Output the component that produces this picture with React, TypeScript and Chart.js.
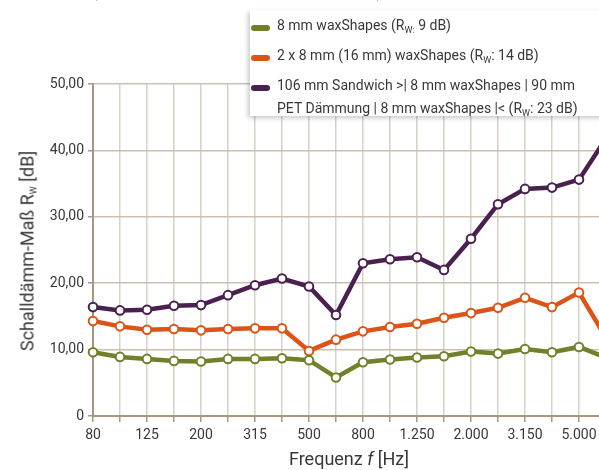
import React, { useEffect, useRef } from "react";
import { Chart, registerables } from "chart.js";

Chart.register(...registerables);

const categories = ["80", "100", "125", "160", "200", "250", "315", "400", "500", "630", "800", "1.000", "1.250", "1.600", "2.000", "2.500", "3.150", "4.000", "5.000", "6.300"];
const series8mm = [9.6, 8.9, 8.6, 8.3, 8.2, 8.6, 8.6, 8.7, 8.4, 5.8, 8.1, 8.5, 8.8, 9.0, 9.7, 9.4, 10.1, 9.6, 10.4, 8.8];
const series16mm = [14.3, 13.5, 13.0, 13.1, 12.9, 13.1, 13.2, 13.2, 9.8, 11.5, 12.75, 13.4, 13.9, 14.8, 15.5, 16.3, 17.8, 16.4, 18.6, 11.8];
const seriesSandwich = [16.4, 15.9, 16.0, 16.6, 16.7, 18.2, 19.7, 20.7, 19.5, 15.2, 23.0, 23.6, 23.9, 22.0, 26.7, 31.9, 34.2, 34.4, 35.6, 41.8];
const yTicks = [0, 10, 20, 30, 40, 50];

const GREEN = "#72802a";
const ORANGE = "#dc5417";
const PURPLE = "#4a2050";
const FONT = "Roboto, 'Noto Sans', sans-serif";
const TEXT = "#383838";

export default function App() {
  const ref = useRef<HTMLCanvasElement>(null);
  useEffect(() => {
    if (!ref.current) return;
    const mk = (data: number[], color: string) => ({
      data,
      borderColor: color,
      backgroundColor: "#ffffff",
      borderWidth: 4.5,
      pointRadius: 4.3,
      pointBorderWidth: 2,
      pointBackgroundColor: "#ffffff",
      pointBorderColor: color,
      tension: 0,
    });
    const chart = new Chart(ref.current, {
      type: "line",
      data: {
        labels: categories,
        datasets: [mk(series8mm, GREEN), mk(series16mm, ORANGE), mk(seriesSandwich, PURPLE)],
      },
      options: {
        animation: false,
        responsive: false,
        maintainAspectRatio: false,
        layout: { padding: { top: 84, right: 14, left: 0, bottom: 0 } },
        plugins: { legend: { display: false }, tooltip: { enabled: false } },
        scales: {
          x: {
            type: "category",
            offset: false,
            afterFit: (s: any) => { s.height = 54; },
            grid: { color: "#d8d1c9", lineWidth: 1.5, tickColor: "#a8967e", tickLength: 6, drawTicks: true },
            border: { color: "#a8967e", width: 2 },
            ticks: {
              autoSkip: false,
              maxRotation: 0,
              padding: 5,
              color: TEXT,
              font: { family: FONT, size: 14 },
              callback: (_v: any, i: number) => (i % 2 === 0 ? categories[i] : ""),
            },
          },
          y: {
            min: 0,
            max: 50,
            afterFit: (s: any) => { s.width = 93; },
            afterBuildTicks: (s: any) => { s.ticks = yTicks.map((v) => ({ value: v })); },
            grid: { color: "#cbbfb0", lineWidth: 1.5, tickColor: "#a8967e", tickLength: 5 },
            border: { color: "#a8967e", width: 2 },
            ticks: {
              padding: 4,
              color: TEXT,
              font: { family: FONT, size: 14 },
              callback: (v: any) => (v === 0 ? "0" : Number(v).toFixed(2).replace(".", ",")),
            },
          },
        },
      },
    });
    return () => chart.destroy();
  }, []);

  const legendItem = (color: string, top: number, content: React.ReactNode) => (
    <div style={{ position: "absolute", left: 1, top, display: "flex", alignItems: "flex-start" }}>
      <div style={{ width: 19, height: 5.5, borderRadius: 3, background: color, marginTop: 8, marginRight: 7 }} />
      <div style={{ lineHeight: "23px", marginTop: -3 }}>{content}</div>
    </div>
  );
  const sub = (t: string) => <sub style={{ fontSize: 9, verticalAlign: "-3px", lineHeight: 0 }}>{t}</sub>;

  return (
    <div style={{ position: "fixed", left: 0, top: 0, width: 599, height: 470, overflow: "hidden", background: "#fff", fontFamily: FONT, color: TEXT }}>
      <canvas ref={ref} width={620} height={470} style={{ position: "absolute", left: 0, top: 0 }} />
      <div style={{ position: "absolute", left: 92, top: -18, fontSize: 16, color: "#555", whiteSpace: "nowrap" }}>
        (Schalldämm-Maß R{sub("W")} in dB im Vergleich)
      </div>
      <div style={{ position: "absolute", left: 250, top: 10, width: 400, height: 106, background: "#fff", boxShadow: "-2px 2px 5px rgba(0,0,0,0.22)", fontSize: 14, whiteSpace: "nowrap" }}>
        {legendItem(GREEN, 7, <span>8 mm waxShapes (R{sub("W:")} 9 dB)</span>)}
        {legendItem(ORANGE, 37, <span>2 x 8 mm (16 mm) waxShapes (R{sub("W")}: 14 dB)</span>)}
        {legendItem(PURPLE, 67, <span>106 mm Sandwich &gt;| 8 mm waxShapes | 90 mm<br />PET Dämmung | 8 mm waxShapes |&lt; (R{sub("W")}: 23 dB)</span>)}
      </div>
      <div style={{ position: "absolute", left: 27, top: 251, transform: "translate(-50%, -50%) rotate(-90deg)", fontSize: 18, whiteSpace: "nowrap" }}>
        Schalldämm-Maß R{sub("W")} [dB]
      </div>
      <div style={{ position: "absolute", left: 349, top: 458, transform: "translate(-50%, -50%)", fontSize: 18, whiteSpace: "nowrap" }}>
        Frequenz <i>f</i> [Hz]
      </div>
    </div>
  );
}
